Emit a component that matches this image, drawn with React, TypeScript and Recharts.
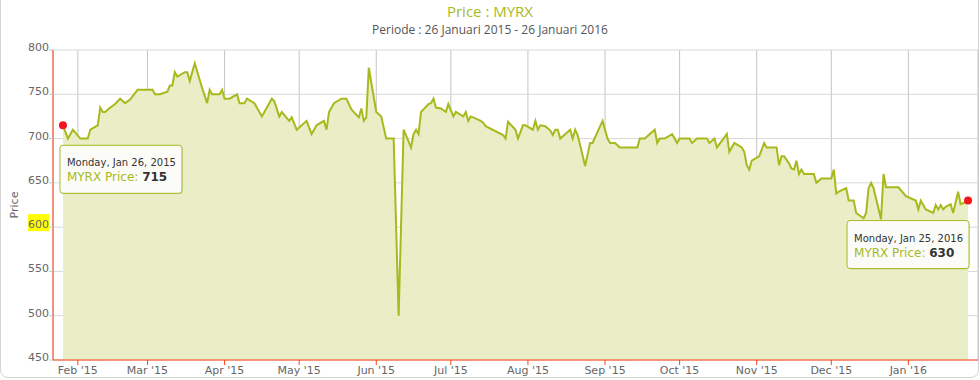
import { Area, AreaChart, CartesianGrid, XAxis, YAxis } from "recharts";

// MYRX daily close (visible turning points)
const DATES = [
  "2015-01-26", "2015-01-28", "2015-01-30", "2015-02-02", "2015-02-05", "2015-02-06", "2015-02-09", "2015-02-10",
  "2015-02-11", "2015-02-12", "2015-02-14", "2015-02-16", "2015-02-18", "2015-02-20", "2015-02-22", "2015-02-25",
  "2015-03-03", "2015-03-04", "2015-03-06", "2015-03-09", "2015-03-10", "2015-03-11", "2015-03-12", "2015-03-13",
  "2015-03-16", "2015-03-17", "2015-03-18", "2015-03-20", "2015-03-23", "2015-03-25", "2015-03-26", "2015-03-27",
  "2015-03-30", "2015-03-31", "2015-04-01", "2015-04-03", "2015-04-06", "2015-04-07", "2015-04-09", "2015-04-10",
  "2015-04-13", "2015-04-16", "2015-04-20", "2015-04-21", "2015-04-23", "2015-04-24", "2015-04-27", "2015-04-28",
  "2015-04-30", "2015-05-04", "2015-05-06", "2015-05-08", "2015-05-11", "2015-05-12", "2015-05-13", "2015-05-15",
  "2015-05-18", "2015-05-20", "2015-05-22", "2015-05-25", "2015-05-26", "2015-05-27", "2015-05-28", "2015-05-29",
  "2015-06-01", "2015-06-03", "2015-06-05", "2015-06-08", "2015-06-10", "2015-06-12", "2015-06-15", "2015-06-16",
  "2015-06-17", "2015-06-18", "2015-06-19", "2015-06-22", "2015-06-23", "2015-06-24", "2015-06-25", "2015-06-27",
  "2015-06-29", "2015-06-30", "2015-07-02", "2015-07-03", "2015-07-06", "2015-07-07", "2015-07-08", "2015-07-09",
  "2015-07-10", "2015-07-13", "2015-07-14", "2015-07-15", "2015-07-22", "2015-07-23", "2015-07-24", "2015-07-27",
  "2015-07-28", "2015-07-30", "2015-07-31", "2015-08-03", "2015-08-04", "2015-08-05", "2015-08-06", "2015-08-08",
  "2015-08-10", "2015-08-11", "2015-08-12", "2015-08-13", "2015-08-14", "2015-08-18", "2015-08-19", "2015-08-20",
  "2015-08-21", "2015-08-24", "2015-08-26", "2015-08-27", "2015-08-31", "2015-09-02", "2015-09-03", "2015-09-05",
  "2015-09-07", "2015-09-14", "2015-09-15", "2015-09-17", "2015-09-21", "2015-09-22", "2015-09-23", "2015-09-25",
  "2015-09-28", "2015-09-30", "2015-10-01", "2015-10-05", "2015-10-06", "2015-10-08", "2015-10-12", "2015-10-13",
  "2015-10-15", "2015-10-16", "2015-10-20", "2015-10-21", "2015-10-23", "2015-10-26", "2015-10-27", "2015-10-28",
  "2015-10-29", "2015-10-30", "2015-11-02", "2015-11-04", "2015-11-05", "2015-11-09", "2015-11-10", "2015-11-11",
  "2015-11-12", "2015-11-14", "2015-11-15", "2015-11-16", "2015-11-17", "2015-11-18", "2015-11-19", "2015-11-20",
  "2015-11-24", "2015-11-25", "2015-11-27", "2015-12-01", "2015-12-02", "2015-12-03", "2015-12-04", "2015-12-07",
  "2015-12-08", "2015-12-10", "2015-12-11", "2015-12-13", "2015-12-14", "2015-12-15", "2015-12-16", "2015-12-17",
  "2015-12-18", "2015-12-21", "2015-12-22", "2015-12-23", "2015-12-28", "2015-12-31", "2016-01-04", "2016-01-05",
  "2016-01-06", "2016-01-08", "2016-01-11", "2016-01-12", "2016-01-13", "2016-01-14", "2016-01-15", "2016-01-16",
  "2016-01-18", "2016-01-19", "2016-01-21", "2016-01-22", "2016-01-23", "2016-01-25",
];

const PRICES = [
  715, 700, 710, 700, 700, 710, 715, 735,
  730, 730, 735, 739, 745, 740, 744, 755,
  755, 750, 750, 753, 760, 760, 775, 770,
  775, 775, 765, 785, 757, 740, 755, 750,
  750, 755, 745, 745, 750, 740, 740, 745,
  740, 725, 745, 742, 725, 730, 720, 724,
  710, 720, 705, 715, 720, 710, 730, 740,
  745, 745, 733, 724, 734, 720, 724, 780,
  730, 725, 700, 700, 500, 710, 690, 705,
  710, 705, 730, 739, 740, 745, 735, 734,
  730, 739, 725, 730, 725, 730, 720, 725,
  724, 720, 718, 714, 704, 700, 719, 710,
  700, 715, 715, 710, 720, 710, 715, 714,
  709, 704, 710, 710, 700, 710, 700, 710,
  704, 669, 695, 695, 720, 700, 695, 695,
  690, 690, 700, 700, 710, 695, 700, 700,
  705, 695, 700, 700, 695, 700, 700, 695,
  700, 690, 705, 685, 695, 690, 685, 670,
  665, 675, 680, 695, 690, 690, 670, 680,
  680, 672, 666, 665, 675, 660, 665, 660,
  660, 650, 655, 655, 665, 638, 640, 644,
  630, 630, 616, 612, 610, 616, 644, 650,
  644, 609, 660, 645, 645, 635, 630, 620,
  630, 620, 616, 625, 620, 625, 620, 623,
  626, 616, 640, 626, 627, 630,
];

const MONTH_TICKS = [
  "2015-02-01", "2015-03-01", "2015-04-01", "2015-05-01", "2015-06-01", "2015-07-01",
  "2015-08-01", "2015-09-01", "2015-10-01", "2015-11-01", "2015-12-01", "2016-01-01",
];
const MONTH_LABELS = [
  "Feb '15", "Mar '15", "Apr '15", "May '15", "Jun '15", "Jul '15",
  "Aug '15", "Sep '15", "Oct '15", "Nov '15", "Dec '15", "Jan '16",
];
const PRICE_TICKS = [450, 500, 550, 600, 650, 700, 750, 800];

const LINE = "#a7b91c";
const FILL = "#e9eec7";
const AXIS = "#ff4112";

const DAY_NAMES = ["Sunday", "Monday", "Tuesday", "Wednesday", "Thursday", "Friday", "Saturday"];
const MONTH_SHORT = ["Jan", "Feb", "Mar", "Apr", "May", "Jun", "Jul", "Aug", "Sep", "Oct", "Nov", "Dec"];

const toTime = (d: string) => Date.parse(d + "T00:00:00Z");

const data = DATES.map((d, i) => ({ t: toTime(d), price: PRICES[i] }));
const xTicks = MONTH_TICKS.map(toTime);
const lastIndex = data.length - 1;

const formatLong = (t: number) => {
  const d = new Date(t);
  return `${DAY_NAMES[d.getUTCDay()]}, ${MONTH_SHORT[d.getUTCMonth()]} ${d.getUTCDate()}, ${d.getUTCFullYear()}`;
};

const formatMonth = (t: number) => MONTH_LABELS[xTicks.indexOf(t)] ?? "";

const PriceTick = ({ x, y, payload }: any) => {
  const highlight = payload.value === 600;
  return (
    <g>
      {highlight && <rect x={x - 21} y={y - 13} width={21} height={17} fill="#ffff00" />}
      <text x={x} y={y + 1} textAnchor="end" fontSize={11} fill="#666">
        {payload.value}
      </text>
    </g>
  );
};

// red marker + pinned tooltip on the first and last point
const renderDot = (props: any) => {
  const { cx, cy, index, payload } = props;
  if (index !== 0 && index !== lastIndex) return <g key={`dot-${index}`} />;
  const boxW = 122;
  const boxH = 48;
  const bx = index === lastIndex ? cx - boxW + 1 : cx - 3;
  const by = cy + 20;
  return (
    <g key={`dot-${index}`}>
      <circle cx={cx} cy={cy} r={4} fill="#f2141e" />
      <rect x={bx + 1} y={by + 1} width={boxW} height={boxH} rx={3} fill="rgba(0,0,0,0.08)" />
      <rect x={bx} y={by} width={boxW} height={boxH} rx={3} fill="rgba(255,255,255,0.9)" stroke={LINE} strokeWidth={1} />
      <text x={bx + 7} y={by + 21} fontSize={10} fill="#333">
        {formatLong(payload.t)}
      </text>
      <text x={bx + 7} y={by + 36} fontSize={12}>
        <tspan fill={LINE}>MYRX Price: </tspan>
        <tspan fill="#333" fontWeight="bold">{payload.price}</tspan>
      </text>
    </g>
  );
};

export default function App() {
  return (
    <div
      style={{
        position: "absolute",
        left: 0,
        top: 0,
        width: 980,
        height: 380,
        background: "#fff",
        fontFamily: "'DejaVu Sans', sans-serif",
        overflow: "hidden",
      }}
    >
      <div
        style={{
          position: "absolute",
          left: 0,
          top: -20,
          width: 977,
          height: 396,
          border: "1px solid #d4d4d4",
          borderRadius: 8,
        }}
      />
      <div
        style={{
          position: "absolute",
          top: 4,
          width: "100%",
          textAlign: "center",
          fontFamily: "'Open Sans', sans-serif",
          fontSize: 15,
          color: LINE,
          lineHeight: "15px",
        }}
      >
        Price : MYRX
      </div>
      <div
        style={{
          position: "absolute",
          top: 23,
          width: "100%",
          textAlign: "center",
          fontFamily: "'Open Sans', sans-serif",
          fontSize: 12,
          color: "#555",
          lineHeight: "14px",
        }}
      >
        Periode : 26 Januari 2015 - 26 Januari 2016
      </div>
      <AreaChart
        width={980}
        height={380}
        data={data}
        margin={{ top: 50, right: 2, bottom: 0, left: 0 }}
        style={{ position: "absolute", left: 0, top: 0 }}
      >
        <CartesianGrid horizontal={false} stroke="#c4c4c4" />
        <CartesianGrid vertical={false} stroke="#d8d8d8" />
        <XAxis
          dataKey="t"
          type="number"
          domain={[toTime("2015-01-22"), toTime("2016-01-29")]}
          ticks={xTicks}
          tickFormatter={formatMonth}
          height={20}
          stroke={AXIS}
          tickSize={5}
          tickMargin={1}
          tick={{ fontSize: 11, fill: "#666" }}
          interval={0}
        />
        <YAxis
          type="number"
          domain={[450, 800]}
          ticks={PRICE_TICKS}
          width={53}
          stroke={AXIS}
          tickLine={{ stroke: "#c4c4c4" }}
          tickSize={4}
          tickMargin={0}
          tick={<PriceTick />}
          interval={0}
          label={{
            content: ({ viewBox }: any) => {
              const lx = 18;
              const ly = viewBox.y + viewBox.height / 2;
              return (
                <text x={lx} y={ly} transform={`rotate(-90, ${lx}, ${ly})`} textAnchor="middle" fontSize={11} fill="#666">
                  Price
                </text>
              );
            },
          }}
        />
        <Area
          type="linear"
          dataKey="price"
          stroke={LINE}
          strokeWidth={2}
          fill={FILL}
          fillOpacity={1}
          dot={renderDot}
          activeDot={false}
          isAnimationActive={false}
        />
      </AreaChart>
    </div>
  );
}
